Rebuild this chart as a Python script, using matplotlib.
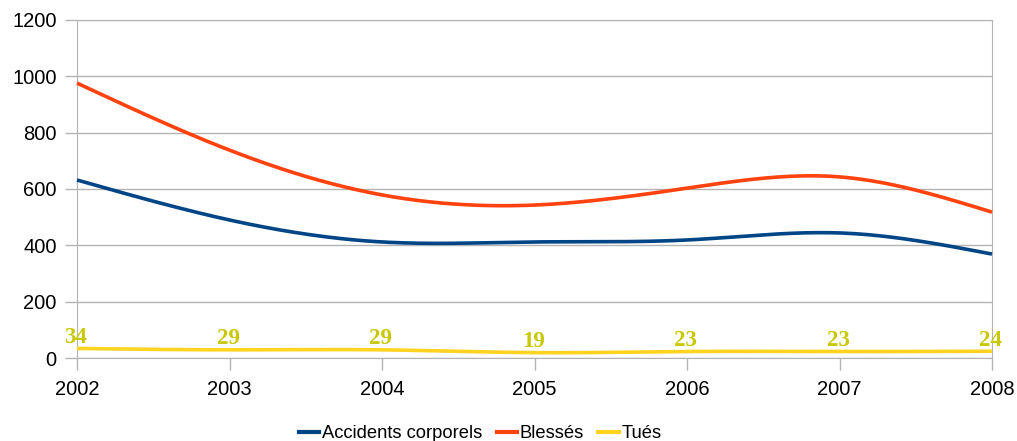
import numpy as np
import matplotlib
matplotlib.use('Agg')
import matplotlib.pyplot as plt
from matplotlib.lines import Line2D

# yearly road accident figures
years = [2002, 2003, 2004, 2005, 2006, 2007, 2008]
accidents = [632, 490, 412, 412, 419, 444, 369]
blesses = [976, 738, 579, 543, 603, 643, 518]
tues = [34, 29, 29, 19, 23, 23, 24]

series_names = ['Accidents corporels', 'Blessés', 'Tués']
series_colours = ['#004586', '#ff420e', '#ffd320']


def smooth(x, y, n=300):
    # natural cubic spline through the points, only used for drawing
    x = np.asarray(x, float)
    y = np.asarray(y, float)
    k = len(x)
    h = np.diff(x)
    A = np.zeros((k, k))
    b = np.zeros(k)
    A[0, 0] = A[-1, -1] = 1
    for i in range(1, k - 1):
        A[i, i - 1] = h[i - 1]
        A[i, i] = 2 * (h[i - 1] + h[i])
        A[i, i + 1] = h[i]
        b[i] = 6 * ((y[i + 1] - y[i]) / h[i] - (y[i] - y[i - 1]) / h[i - 1])
    m = np.linalg.solve(A, b)
    xs = np.linspace(x[0], x[-1], n)
    idx = np.clip(np.searchsorted(x, xs) - 1, 0, k - 2)
    x0, x1 = x[idx], x[idx + 1]
    hh = x1 - x0
    t0 = x1 - xs
    t1 = xs - x0
    ys = (m[idx] * t0 ** 3 + m[idx + 1] * t1 ** 3) / (6 * hh) \
        + (y[idx] / hh - m[idx] * hh / 6) * t0 + (y[idx + 1] / hh - m[idx + 1] * hh / 6) * t1
    return xs, ys


plt.rcParams['font.family'] = ['Liberation Sans', 'DejaVu Sans']

fig = plt.figure(figsize=(10.17, 4.41), dpi=100)
ax = fig.add_axes([77 / 1017, 83 / 441, 915 / 1017, 338 / 441])

for vals, col in zip([accidents, blesses, tues], series_colours):
    xs, ys = smooth(years, vals)
    ax.plot(xs, ys, color=col, linewidth=2.6, solid_capstyle='butt', clip_on=False, zorder=3)

for x, v in zip(years, tues):
    ax.annotate(str(v), (x, v), xytext=(-1, 4), textcoords='offset points',
                ha='center', va='baseline', fontsize=16.5, fontweight='bold',
                family='Liberation Serif', color='#c8c800', zorder=4)

ax.set_xlim(2002, 2008)
ax.set_ylim(0, 1200)
ax.set_xticks(years)
ax.set_yticks(range(0, 1201, 200))
ax.yaxis.grid(True, color='#b3b3b3', linewidth=1)
ax.set_axisbelow(True)
for sp in ax.spines.values():
    sp.set_color('#b3b3b3')
ax.tick_params(axis='both', colors='#b3b3b3', labelcolor='black', labelsize=14.5, length=8.5, width=1)
ax.tick_params(axis='x', pad=7)
ax.tick_params(axis='y', pad=6)

handles = [Line2D([], [], color=c, linewidth=3.0) for c in series_colours]
fig.legend(handles, series_names, loc='center', bbox_to_anchor=(0.472, 0.016), ncol=3,
           frameon=False, fontsize=13.2, handlelength=1.1, handletextpad=0.15, columnspacing=0.8,
           borderpad=0)

fig.savefig('out.png', dpi=100)
